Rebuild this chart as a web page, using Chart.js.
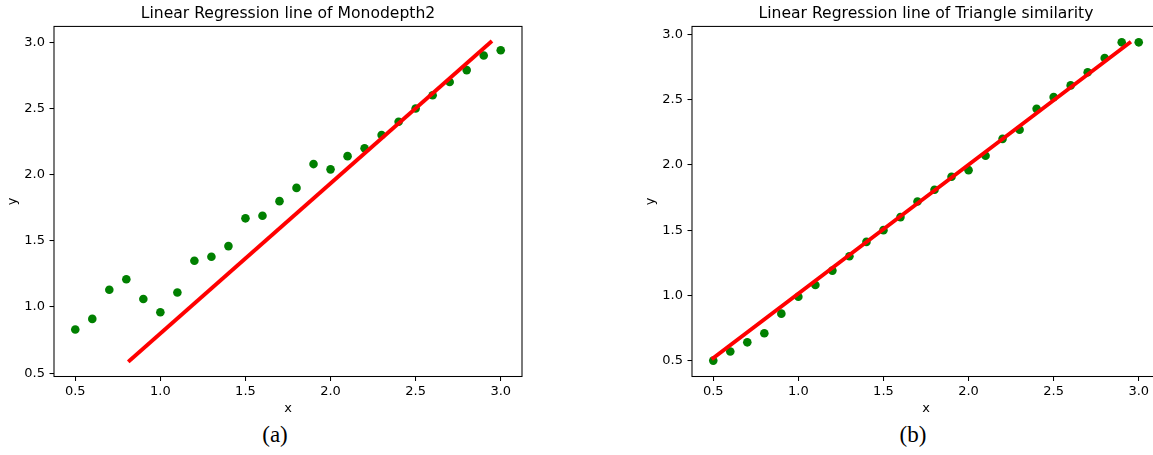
<!DOCTYPE html>
<html>
<head>
<meta charset="utf-8">
<script src="https://cdn.jsdelivr.net/npm/chart.js@4.4.1/dist/chart.umd.min.js"></script>
<style>
    html, body { margin: 0; padding: 0; background: #fff; overflow: hidden; }
    #figura { position: relative; width: 1153px; height: 455px; overflow: hidden; }
    canvas { position: absolute; top: 0; }
    .legenda {
        position: absolute; top: 422px; line-height: 26px;
        font-family: 'Liberation Serif', serif; font-size: 23px; color: #000;
        transform: translateX(-50%);
    }
</style>
</head>
<body>
<div id="figura">
    <canvas id="grafico-a" width="576" height="420" style="left:0px"></canvas>
    <canvas id="grafico-b" width="576" height="420" style="left:638px"></canvas>
    <span class="legenda" style="left:275px">(a)</span>
    <span class="legenda" style="left:913px">(b)</span>
</div>
<script>
const x_vals = [0.5, 0.6, 0.7, 0.8, 0.9, 1.0, 1.1, 1.2, 1.3, 1.4, 1.5, 1.6, 1.7,
                1.8, 1.9, 2.0, 2.1, 2.2, 2.3, 2.4, 2.5, 2.6, 2.7, 2.8, 2.9, 3.0];

// Monodepth2
const mono_y = [0.83, 0.91, 1.13, 1.21, 1.06, 0.96, 1.11, 1.35, 1.38, 1.46, 1.67, 1.69, 1.80,
                1.90, 2.08, 2.04, 2.14, 2.20, 2.30, 2.40, 2.50, 2.60, 2.70, 2.79, 2.90, 2.94];
const mono_linha_x = [0.82, 2.94];
const mono_linha_y = [0.595, 3.0];

// Triangle similarity
const tri_y = [0.50, 0.57, 0.64, 0.71, 0.86, 0.99, 1.08, 1.19, 1.30, 1.41, 1.50, 1.60, 1.72,
               1.81, 1.91, 1.96, 2.07, 2.20, 2.27, 2.43, 2.52, 2.61, 2.71, 2.82, 2.94, 2.94];
const tri_linha_x = [0.5, 2.945];
const tri_linha_y = [0.52, 2.935];

const x_ticks = [0.5, 1.0, 1.5, 2.0, 2.5, 3.0];
const y_ticks = [0.5, 1.0, 1.5, 2.0, 2.5, 3.0];

const fonte = 'DejaVu Sans';

// caixa preta em volta da area do grafico
const moldura = {
    id: 'moldura',
    afterDraw(chart){
        const {ctx, chartArea: a} = chart;
        ctx.save();
        ctx.strokeStyle = '#000';
        ctx.lineWidth = 1.04;
        ctx.strokeRect(a.left, a.top, a.right - a.left, a.bottom - a.top);
        ctx.restore();
    }
};

// margem de 5% como no matplotlib
function limites(vals){
    const mn = Math.min(...vals), mx = Math.max(...vals);
    const m = (mx - mn) * 0.05;
    return {min: mn - m, max: mx + m};
}

function eixo(titulo, ticks, lim, vertical){
    return {
        type: 'linear',
        position: vertical ? 'left' : 'bottom',
        min: lim.min,
        max: lim.max,
        afterBuildTicks: s => { s.ticks = ticks.map(v => ({value: v})); },
        afterFit: s => {
            if(vertical) s.width = 54;
            else s.height = 43.5;
        },
        border: {display: false},
        grid: {
            display: true, drawOnChartArea: false, drawTicks: true,
            tickLength: 4.5, color: '#000', lineWidth: 1.04
        },
        ticks: {
            color: '#000', padding: vertical ? 4.5 : 3,
            font: {family: fonte, size: 13},
            callback: v => v.toFixed(1)
        },
        title: {
            display: true, text: titulo, color: '#000',
            font: {family: fonte, size: 13},
            padding: vertical ? {top: 5.2, bottom: 0} : {top: 0, bottom: 3.2}
        }
    };
}

function montarGrafico(id, titulo, pontos_y, linha_x, linha_y){
    const pontos = x_vals.map((x, i) => ({x: x, y: pontos_y[i]}));
    const linha = linha_x.map((x, i) => ({x: x, y: linha_y[i]}));

    new Chart(document.getElementById(id), {
        type: 'scatter',
        data: {
            datasets: [{
                data: linha,
                showLine: true,
                borderColor: '#ff0000',
                borderWidth: 3.9,
                borderCapStyle: 'square',
                pointRadius: 0,
                order: 0
            }, {
                data: pontos,
                backgroundColor: '#008000',
                borderWidth: 0,
                pointRadius: 4.3,
                order: 1
            }]
        },
        options: {
            responsive: false,
            animation: false,
            layout: {padding: {left: 0, right: 54, top: 0, bottom: 0}},
            plugins: {
                legend: {display: false},
                tooltip: {enabled: false},
                title: {
                    display: true, text: titulo, color: '#000', fullSize: false,
                    font: {family: fonte, size: 15.6, weight: 'normal'},
                    padding: {top: 4.1, bottom: 3.6}
                }
            },
            scales: {
                x: eixo('x', x_ticks, limites(x_vals.concat(linha_x)), false),
                y: eixo('y', y_ticks, limites(pontos_y.concat(linha_y)), true)
            }
        },
        plugins: [moldura]
    });
}

montarGrafico('grafico-a', 'Linear Regression line of Monodepth2', mono_y, mono_linha_x, mono_linha_y);
montarGrafico('grafico-b', 'Linear Regression line of Triangle similarity', tri_y, tri_linha_x, tri_linha_y);
</script>
</body>
</html>
